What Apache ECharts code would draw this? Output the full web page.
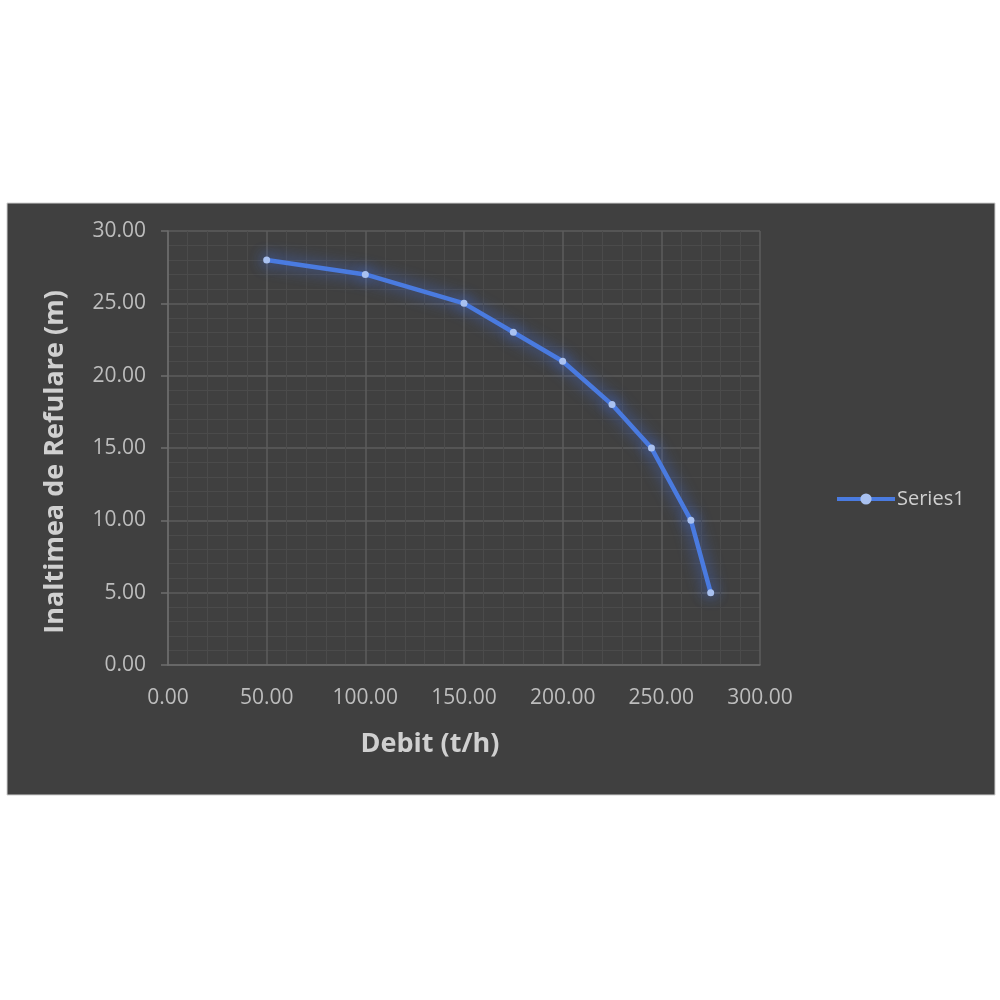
<!DOCTYPE html>
<html><head><meta charset="utf-8">
<script src="https://cdn.jsdelivr.net/npm/echarts@6/dist/echarts.min.js"></script>
<style>html,body{margin:0;padding:0;background:#fff}#c{width:1000px;height:1000px}</style>
</head><body><div id="c"></div>
<script>
const debit = [50, 100, 150, 175, 200, 225, 245, 265, 275];
const inaltime = [28, 27, 25, 23, 21, 18, 15, 10, 5];
const seriesName = 'Series1';
const xAxisTitle = 'Debit (t/h)';
const yAxisTitle = 'Inaltimea de Refulare (m)';

const chart = echarts.init(document.getElementById('c'), null, {renderer: 'canvas'});
const font = 'Open Sans';
chart.setOption({
  backgroundColor: '#ffffff',
  textStyle: {fontFamily: font},
  graphic: [{
    type: 'rect', z: -10, silent: true,
    shape: {x: 7, y: 203, width: 988, height: 592},
    style: {fill: '#404040', stroke: '#d0d0d0', lineWidth: 1}
  }],
  grid: {left: 168, right: 240, top: 231, bottom: 335, containLabel: false},
  legend: {
    data: [seriesName], left: 835, top: 489, orient: 'vertical', padding: 0,
    itemWidth: 58, itemHeight: 14, itemGap: 4,
    lineStyle: {width: 4, color: '#4a7be0'},
    itemStyle: {color: '#a9c1f0'},
    textStyle: {color: '#cfcfcf', fontSize: 20, fontFamily: font, padding: [0, 0, 0, -3]}
  },
  xAxis: {
    type: 'value', min: 0, max: 300, interval: 50,
    name: xAxisTitle, nameLocation: 'middle', nameGap: 66,
    nameTextStyle: {color: '#d0d0d0', fontSize: 27, fontWeight: 'bold', fontFamily: font, padding: [0, 68, 0, 0]},
    axisLine: {show: true, lineStyle: {color: '#6e6e6e', width: 1.5}},
    axisTick: {show: false},
    axisLabel: {color: '#bdbdbd', fontSize: 21, margin: 23, formatter: v => v.toFixed(2), fontFamily: font},
    splitLine: {show: true, lineStyle: {color: '#5c5c5c', width: 1.5}},
    minorTick: {show: false, splitNumber: 5},
    minorSplitLine: {show: true, lineStyle: {color: '#4b4b4b', width: 1}}
  },
  yAxis: {
    type: 'value', min: 0, max: 30, interval: 5,
    name: yAxisTitle, nameLocation: 'middle', nameGap: 99, nameRotate: 90,
    nameTextStyle: {color: '#d0d0d0', fontSize: 27, fontWeight: 'bold', fontFamily: font, padding: [0, 28, 0, 0], align: 'center'},
    axisLine: {show: true, lineStyle: {color: '#6e6e6e', width: 1.5}},
    axisTick: {show: true, length: 7, lineStyle: {color: '#6e6e6e', width: 1.5}},
    axisLabel: {color: '#bdbdbd', fontSize: 21, margin: 22, formatter: v => v.toFixed(2), fontFamily: font},
    splitLine: {show: true, lineStyle: {color: '#5c5c5c', width: 1.5}},
    minorTick: {show: false, splitNumber: 5},
    minorSplitLine: {show: true, lineStyle: {color: '#4b4b4b', width: 1}}
  },
  series: [{
    name: seriesName, type: 'line',
    data: debit.map((x, i) => [x, inaltime[i]]),
    symbol: 'circle', symbolSize: 7,
    itemStyle: {color: '#a9c1f0', borderWidth: 0, shadowBlur: 14, shadowColor: 'rgba(68,114,230,1)'},
    lineStyle: {color: '#4a7be0', width: 4.5, shadowBlur: 16, shadowColor: 'rgba(68,114,235,0.9)'},
    animation: false
  }],
  animation: false
});
</script></body></html>
